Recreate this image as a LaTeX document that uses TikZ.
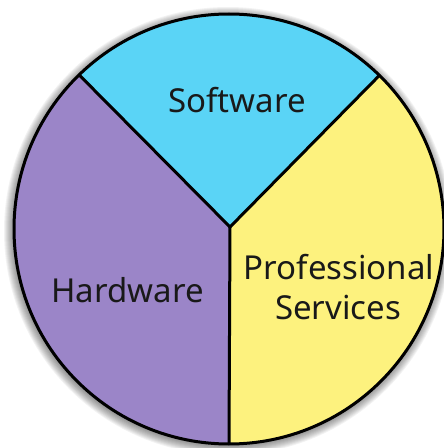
\documentclass[tikz,border=0pt]{standalone}
\usepackage{fontspec}
\usetikzlibrary{calc}
\setmainfont{Noto Sans}
\definecolor{swcyan}{RGB}{90,212,246}
\definecolor{hwpurple}{RGB}{155,133,200}
\definecolor{psyellow}{RGB}{253,242,126}
\definecolor{txt}{RGB}{25,25,25}
\tikzset{
  wedge/.style={line width=3pt, draw=black, line join=round},
  divider/.style={line width=3pt, draw=black, line cap=round},
  label/.style={text=txt, font=\fontsize{33}{40}\selectfont, anchor=base, inner sep=0pt}
}
\begin{document}
\begin{tikzpicture}[x=1pt,y=1pt]
\useasboundingbox (0,0) rectangle (444,448);
% soft shadow
\foreach \i in {1,...,10}{
  \fill[black, opacity=0.05] (228,217) circle[radius=214+\i];
}
\coordinate (C) at (229,219);
\coordinate (J) at (230,221);
\coordinate (A) at ($(C)+(134.2:215)$);
\coordinate (B) at ($(C)+(45.6:215)$);
\coordinate (D) at ($(C)+(270:215)$);
% wedges
\fill[swcyan] (J) -- (A) arc[start angle=134.2, end angle=45.6, radius=215] -- cycle;
\fill[hwpurple] (J) -- (A) arc[start angle=134.2, end angle=270, radius=215] -- cycle;
\fill[psyellow] (J) -- (D) arc[start angle=-90, end angle=45.6, radius=215] -- cycle;
% outlines
\draw[divider] (J) -- (A);
\draw[divider] (J) -- (B);
\draw[divider] (J) -- (D);
\draw[wedge] (C) circle[radius=215];
% labels
\node[label] (sw) at (237,335) {Software};
\node[label] (hw) at (127.5,145) {Hardware};
\node[label] (ps1) at (339,168) {Professional};
\node[label] (ps2) at (338,128) {Services};
\end{tikzpicture}
\end{document}
